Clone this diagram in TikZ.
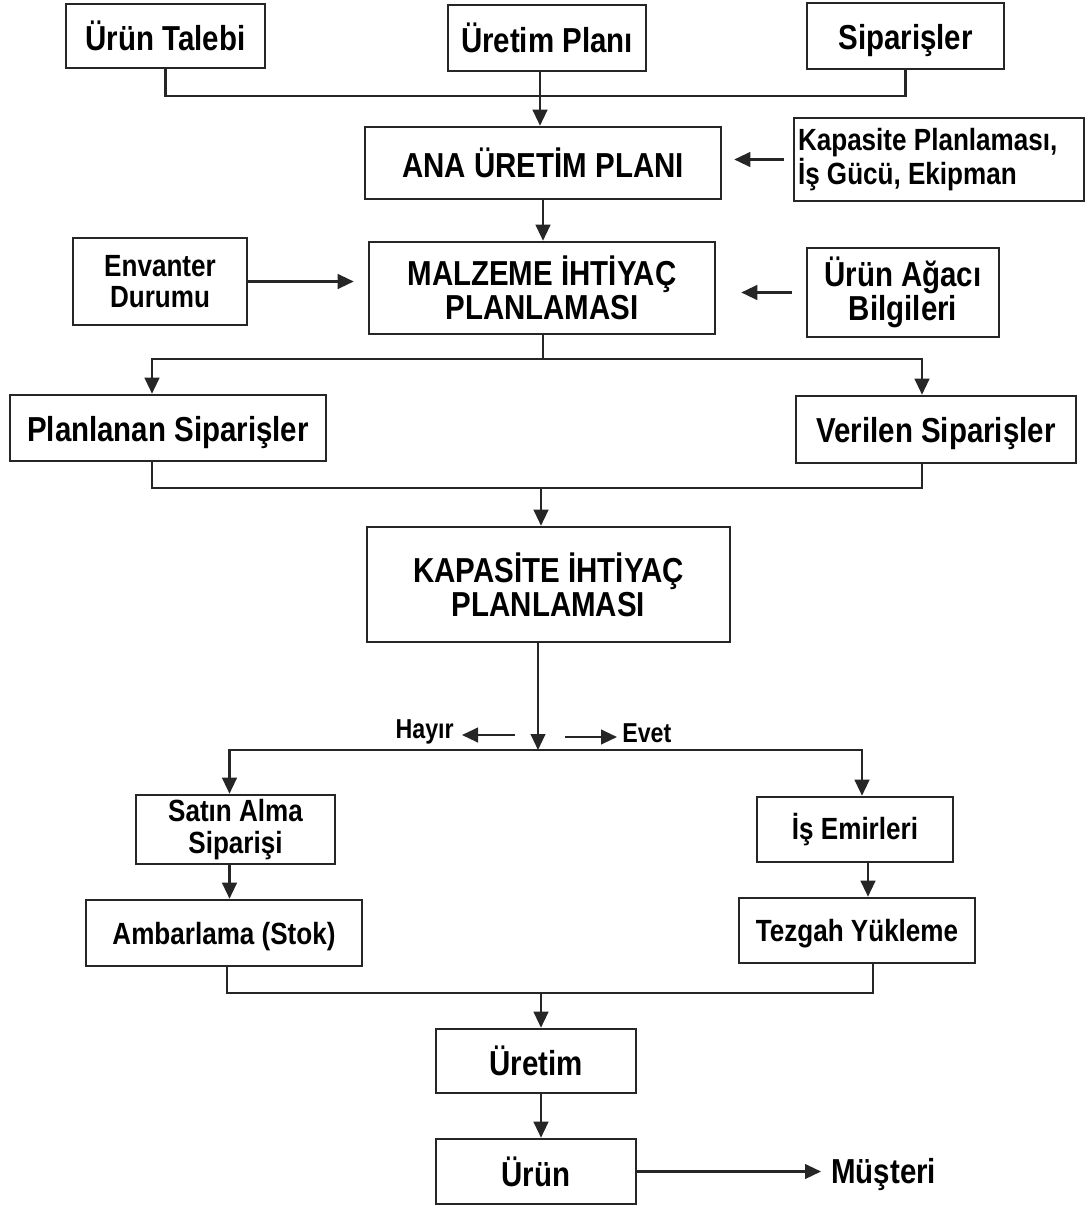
\documentclass[tikz,border=0pt]{standalone}
\usepackage{fontspec}
\setmainfont[FakeStretch=0.85]{Liberation Sans}
\usetikzlibrary{arrows.meta}
\newcommand\txtbig{\bfseries\fontsize{26}{25.5}\selectfont}
\newcommand\txtmid{\bfseries\fontsize{23}{23.5}\selectfont}
\newcommand\txtsmall{\bfseries\fontsize{20.5}{22}\selectfont}
\begin{document}
\begin{tikzpicture}[x=0.75pt,y=-0.75pt,
  box/.style={draw=black!85, line width=1.9pt, rectangle, align=center, inner sep=2pt, font=\txtbig},
  wh/.style 2 args={minimum width=#1*0.75pt, minimum height=#2*0.75pt},
  capbig/.style={text height=24pt, text depth=4pt},
  capmid/.style={text height=20.5pt, text depth=4pt},
  link/.style={line width=1.6pt, draw=black!85},
  arr/.style={link, -{Triangle[length=12pt,width=11pt]}},
  lbl/.style={inner sep=0pt}
]
\useasboundingbox (0,0) rectangle (1086,1206);

% inputs
\node[box, wh={199}{64}] (talep) at (165.5,36) {Ürün Talebi};
\node[box, wh={198}{66}] (plan) at (547,38) {Üretim Planı};
\node[box, wh={197}{66}, capbig] (sip) at (905.5,36) {Siparişler};

% master schedule
\node[box, wh={356}{72}] (mps) at (543,163) {ANA ÜRETİM PLANI};
\node[box, wh={290}{83}, font=\txtmid, align=flush left, inner xsep=3pt, text width=211.5pt] (kap) at (939,159.5) {Kapasite Planlaması,\\İş Gücü, Ekipman};

% material requirements
\node[box, wh={174}{87}, font=\txtmid] (env) at (160,281.5) {Envanter\\Durumu};
\node[box, wh={346}{92}] (mrp) at (542,288) {MALZEME İHTİYAÇ\\PLANLAMASI};
\node[box, wh={192}{89}] (bom) at (903,292.5) {Ürün Ağacı\\Bilgileri};

% orders
\node[box, wh={316}{66}, capbig] (plnd) at (168,428) {Planlanan Siparişler};
\node[box, wh={280}{67}, capbig] (verl) at (936,429.5) {Verilen Siparişler};

% capacity requirements
\node[box, wh={363}{115}] (crp) at (548.5,584.5) {KAPASİTE İHTİYAÇ\\PLANLAMASI};
\node[lbl, font=\txtsmall, anchor=east] (hayir) at (454,732) {Hayır};
\node[lbl, font=\txtsmall, anchor=west] (evet) at (622,733) {Evet};

% branches
\node[box, wh={199}{69}, font=\txtmid] (sat) at (235.5,829.5) {Satın Alma\\Siparişi};
\node[box, wh={276}{66}, font=\txtmid, capmid] (amb) at (224,933) {Ambarlama (Stok)};
\node[box, wh={196}{65}, font=\txtmid] (isem) at (855,829.5) {İş Emirleri};
\node[box, wh={236}{65}, font=\txtmid, capmid] (tez) at (857,930.5) {Tezgah Yükleme};

% production
\node[box, wh={200}{64}] (uret) at (536,1061) {Üretim};
\node[box, wh={200}{65}] (urun) at (536,1171.5) {Ürün};
\node[lbl, font=\txtbig, anchor=west] (mus) at (831,1175) {Müşteri};

% bus points
\coordinate (b1) at (540,96);
\coordinate (b2) at (543,359);
\coordinate (b3) at (541,488);
\coordinate (b4) at (538,750);
\coordinate (b5) at (541,993);
\coordinate (hs) at (515,735);
\coordinate (es) at (565,737);

% connectors
\draw[link] (talep.south) |- (b1) -| (sip.south);
\draw[arr] (plan.south -| b1) -- (mps.north -| b1);
\draw[arr, shorten <=6.75pt, shorten >=9pt] (kap.west) -- (kap.west -| mps.east);
\draw[arr] (mps.south) -- (mps.south |- mrp.north);
\draw[arr, shorten >=10.5pt] (env.east) -- (env.east -| mrp.west);
\draw[arr, shorten <=10.5pt, shorten >=18.75pt] (bom.west) -- (bom.west -| mrp.east);

\draw[link] (mrp.south -| b2) -- (b2);
\draw[arr] (b2) -| ([xshift=-12pt]plnd.north);
\draw[arr] (b2) -| ([xshift=-10.5pt]verl.north);

\draw[link] ([xshift=-12pt]plnd.south) |- (b3) -| ([xshift=-10.5pt]verl.south);
\draw[arr] (b3) -- (b3 |- crp.north);

\draw[arr] (b4 |- crp.south) -- (b4);
\draw[arr, shorten >=6pt] (hs) -- (hs -| hayir.east);
\draw[arr, shorten >=3.75pt] (es) -- (es -| evet.west);
\draw[arr] (b4) -| ([xshift=-4.5pt]sat.north);
\draw[arr] (b4) -| ([xshift=5.25pt]isem.north);

\draw[arr] ([xshift=-4.5pt]sat.south) -- ([xshift=-4.5pt]sat.south |- amb.north);
\draw[arr] ([xshift=9.75pt]isem.south) -- ([xshift=9.75pt]isem.south |- tez.north);

\draw[link] ([xshift=2.25pt]amb.south) |- (b5) -| ([xshift=12pt]tez.south);
\draw[arr] (b5) -- (b5 |- uret.north);
\draw[arr] (b5 |- uret.south) -- (b5 |- urun.north);
\draw[arr, shorten >=7.5pt] (urun.east) -- (urun.east -| mus.west);
\end{tikzpicture}
\end{document}
